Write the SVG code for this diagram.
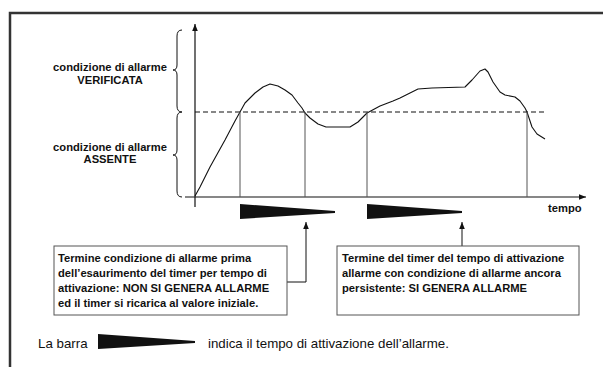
<svg xmlns="http://www.w3.org/2000/svg" width="603" height="367" viewBox="0 0 603 367">
<style>
.lbl{font-family:"Liberation Sans",Arial,sans-serif;font-weight:bold;font-size:11.2px;fill:#111}
.box{fill:#fff;stroke:#555;stroke-width:1}
.btxt{font-family:"Liberation Sans",Arial,sans-serif;font-weight:bold;font-size:11.2px;fill:#111}
.note{font-family:"Liberation Sans",Arial,sans-serif;font-size:13.3px;fill:#111}
.vl{stroke:#555;stroke-width:1;fill:none}
.ax{stroke:#111;stroke-width:1.2;fill:none}
.brace{stroke:#111;stroke-width:1;fill:none}
</style>
<defs>
<marker id="ah" viewBox="0 0 10 10" refX="10" refY="5" markerWidth="7" markerHeight="7" markerUnits="userSpaceOnUse" orient="auto">
<path d="M0,1 L10,5 L0,9 Z" fill="#111"/>
</marker>
</defs>
<rect width="603" height="367" fill="#fff"/>
<g id="frame">
<path d="M10,367 L10,13 L603,13" fill="none" stroke="#333" stroke-width="2.5"/>
</g>
<g id="axes">
<line class="ax" x1="195" y1="207" x2="195" y2="24" marker-end="url(#ah)"/>
<line class="ax" x1="185" y1="197" x2="586" y2="197" marker-end="url(#ah)"/>
<text class="lbl" x="548" y="212">tempo</text>
</g>
<g id="threshold">
<line x1="195" y1="112" x2="547" y2="112" stroke="#111" stroke-width="1.1" stroke-dasharray="5,3"/>
</g>
<g id="braces">
<path class="brace" d="M182,30 Q177,30 177,36 L177,65 Q177,70 173,70 Q177,70 177,75 L177,106 Q177,112 182,112"/>
<path class="brace" d="M182,112 Q177,112 177,118 L177,150 Q177,155 173,155 Q177,155 177,160 L177,191 Q177,197 182,197"/>
<text class="lbl" x="110" y="71" text-anchor="middle">condizione di allarme</text>
<text class="lbl" x="110" y="84" text-anchor="middle">VERIFICATA</text>
<text class="lbl" x="110" y="151" text-anchor="middle">condizione di allarme</text>
<text class="lbl" x="110" y="163" text-anchor="middle">ASSENTE</text>
</g>
<g id="signal">
<polyline fill="none" stroke="#111" stroke-width="1.1" stroke-linejoin="round" points="195,196 200,187 210,167 225,140 235,121 240,112 245,103 255,93 263,87 270,84 278,86 285,90 292,95 298,103 302,108 305,113 310,118 318,124 326,127 350,127 358,122 367,113 380,106 393,101 400,98 410,93 418,89 432,88 465,87 472,80 480,71 485,69 488,72 493,82 500,92 505,95 515,97 520,101 525,108 527,112 532,127 537,134 545,139"/>
</g>
<g id="markers">
<line class="vl" x1="240" y1="112" x2="240" y2="197"/>
<line class="vl" x1="305" y1="112" x2="305" y2="197"/>
<line class="vl" x1="367" y1="112" x2="367" y2="197"/>
<line class="vl" x1="527" y1="112" x2="527" y2="197"/>
</g>
<g id="bars">
<polygon points="240,204 335,211 335,213 240,219" fill="#111"/>
<polygon points="367,204 462,211 462,213 367,219" fill="#111"/>
</g>
<g id="connectors">
<polyline class="ax" points="287,282 306,282 306,222" marker-end="url(#ah)" style="stroke-width:1"/>
<line class="ax" x1="462" y1="246" x2="462" y2="222" marker-end="url(#ah)" style="stroke-width:1"/>
</g>
<g id="box1">
<rect class="box" x="54" y="246" width="233" height="69"/>
<text class="btxt" x="58" y="262">Termine condizione di allarme prima</text>
<text class="btxt" x="58" y="277">dell’esaurimento del timer per tempo di</text>
<text class="btxt" x="58" y="292">attivazione: NON SI GENERA ALLARME</text>
<text class="btxt" x="58" y="307">ed il timer si ricarica al valore iniziale.</text>
</g>
<g id="box2">
<rect class="box" x="337" y="246" width="242" height="69"/>
<text class="btxt" x="342" y="262">Termine del timer del tempo di attivazione</text>
<text class="btxt" x="342" y="277">allarme con condizione di allarme ancora</text>
<text class="btxt" x="342" y="292">persistente: SI GENERA ALLARME</text>
</g>
<g id="legend">
<text class="note" x="38" y="348">La barra</text>
<polygon points="98,334 195,341 195,343 98,349" fill="#111"/>
<text class="note" x="208" y="348">indica il tempo di attivazione dell’allarme.</text>
</g>
</svg>
